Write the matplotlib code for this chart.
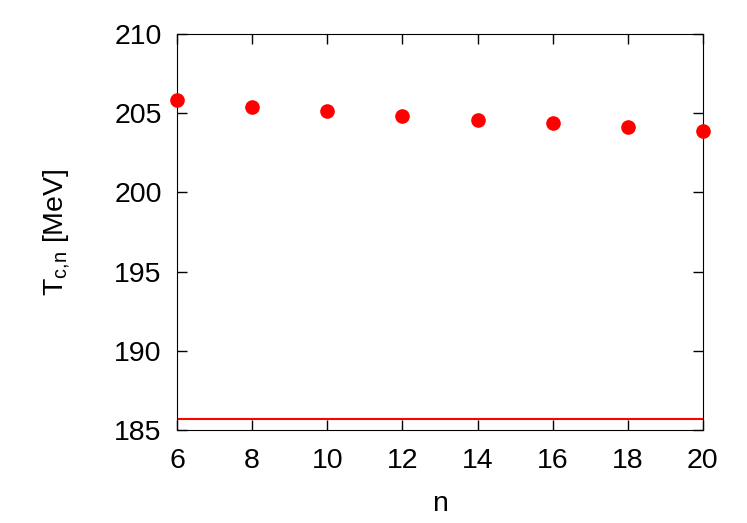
import numpy as np
import matplotlib
matplotlib.use('Agg')
import matplotlib.pyplot as plt

n = [6, 8, 10, 12, 14, 16, 18, 20]
tc_n = [205.82, 205.42, 205.11, 204.83, 204.58, 204.35, 204.13, 203.90]
tc_inf = 185.71

plt.rcParams['font.family'] = ['Liberation Sans', 'DejaVu Sans']
plt.rcParams['font.size'] = 20.5

fig = plt.figure(figsize=(7.47, 5.23), dpi=100)
ax = fig.add_axes([0.2369, 0.1778, 0.7041, 0.7572])

ax.axhline(tc_inf, color='red', lw=1.5)
ax.plot(n, tc_n, 'o', color='red', ms=9.5, clip_on=False, zorder=3)

ax.set_xlim(6, 20)
ax.set_ylim(185, 210)
ax.set_xticks(np.arange(6, 21, 2))
ax.set_yticks(np.arange(185, 211, 5))
ax.tick_params(direction='in', top=True, right=True, length=7, width=1)
ax.tick_params(axis='x', pad=13)
ax.tick_params(axis='y', pad=11)
ax.set_xlabel('n', labelpad=12)
ax.set_ylabel(r'T$_{\mathregular{c{,}n}}$ [MeV]', labelpad=30)

plt.savefig('out.png', dpi=100)
